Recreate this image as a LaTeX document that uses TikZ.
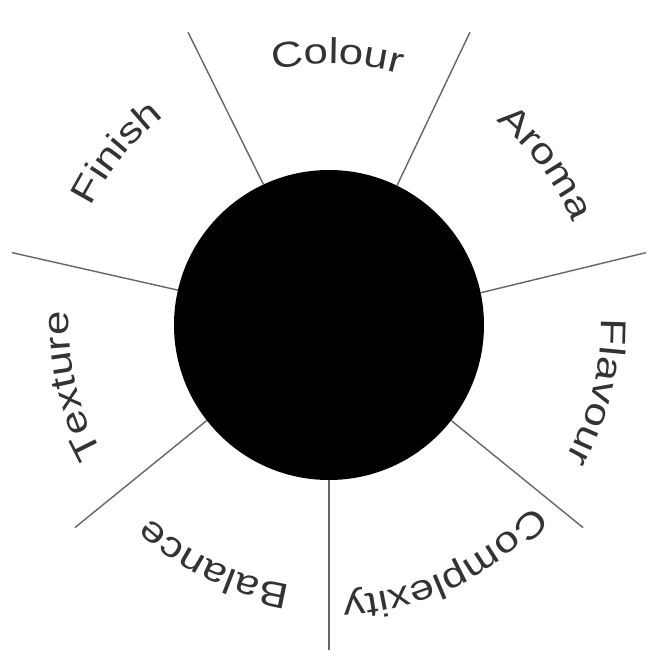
\documentclass[tikz,border=0pt]{standalone}
\usepackage{fontspec}
\setmainfont[FakeStretch=1.22]{Liberation Sans}
\usetikzlibrary{decorations.text}

\begin{document}
\begin{tikzpicture}[
    hub/.style={circle, fill=black, draw=none, minimum size=3.1cm, inner sep=0pt, outer sep=0pt},
    spoke/.style={draw=black!60, line width=0.4pt},
    wordarc/.style={decorate, decoration={text along path, text align=center, text color=black!80}}
]
    \useasboundingbox (-3.29,-3.35) rectangle (3.31,3.25);

    % centre disc
    \node[hub] (hub) at (0,0) {};

    % outer ends of the spokes
    \coordinate (out1) at (-90:3.25);
    \coordinate (out2) at (-38.57:3.25);
    \coordinate (out3) at (12.86:3.25);
    \coordinate (out4) at (64.29:3.25);
    \coordinate (out5) at (115.71:3.25);
    \coordinate (out6) at (167.14:3.25);
    \coordinate (out7) at (218.57:3.25);

    \draw[spoke] (hub.-90) -- (out1);
    \draw[spoke] (hub.-38.57) -- (out2);
    \draw[spoke] (hub.12.86) -- (out3);
    \draw[spoke] (hub.64.29) -- (out4);
    \draw[spoke] (hub.115.71) -- (out5);
    \draw[spoke] (hub.167.14) -- (out6);
    \draw[spoke] (hub.218.57) -- (out7);

    % sector names, read clockwise
    \path[wordarc, decoration={text={|\fontsize{10.2}{12}\selectfont|Colour}}] (128.2:2.61) arc[start angle=128.2, end angle=48.2, radius=2.61];
    \path[wordarc, decoration={text={|\fontsize{10.2}{12}\selectfont|Aroma}}] (76.77:2.64) arc[start angle=76.77, end angle=-3.23, radius=2.64];
    \path[wordarc, decoration={text={|\fontsize{10.2}{12}\selectfont|Flavour}}] (25.94:2.72) arc[start angle=25.94, end angle=-54.06, radius=2.72];
    \path[wordarc, decoration={text={|\fontsize{10.2}{12}\selectfont|Complexity}}] (-24.29:2.72) arc[start angle=-24.29, end angle=-104.29, radius=2.72];
    \path[wordarc, decoration={text={|\fontsize{10.2}{12}\selectfont|Balance}}] (-75.71:2.63) arc[start angle=-75.71, end angle=-155.71, radius=2.63];
    \path[wordarc, decoration={text={|\fontsize{10.2}{12}\selectfont|Texture}}] (-126.64:2.6) arc[start angle=-126.64, end angle=-206.64, radius=2.6];
    \path[wordarc, decoration={text={|\fontsize{10.2}{12}\selectfont|Finish}}] (180.93:2.66) arc[start angle=180.93, end angle=100.93, radius=2.66];
\end{tikzpicture}
\end{document}
